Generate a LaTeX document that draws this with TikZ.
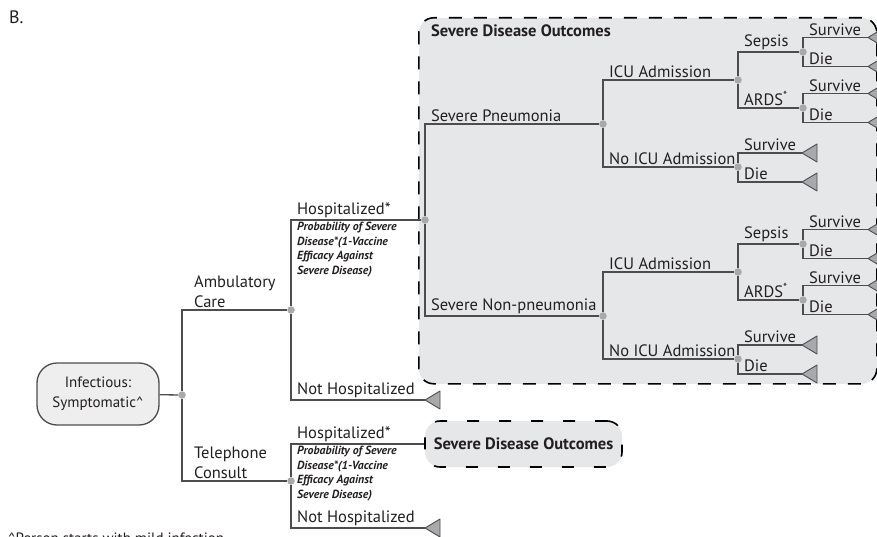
\documentclass[tikz,border=0pt]{standalone}
\usepackage{fontspec}
\setmainfont{PT Sans}
\usepackage{tikz}
\usetikzlibrary{positioning}
\definecolor{treeline}{HTML}{4D4D4F}
\definecolor{treetext}{HTML}{231F20}
\definecolor{treedot}{HTML}{A7A9AC}
\definecolor{treetri}{HTML}{A7A9AC}
\definecolor{outfill}{HTML}{E6E7E8}
\definecolor{rootfill}{HTML}{EEEEEE}

\begin{document}
\begin{tikzpicture}[x=1pt,y=-1pt,
  br/.style={draw=treeline,line width=1.3pt},
  dot/.style={circle,fill=treedot,inner sep=0pt,minimum size=7.5pt},
  lbl/.style={pos=0.5,anchor=south west,xshift=4pt,inner sep=1.5pt,text=treetext,font=\fontsize{16.5}{20}\selectfont},
  lbltwo/.style={lbl,align=left,xshift=6pt},
  note/.style={pos=0.5,anchor=north west,xshift=4pt,inner sep=1.5pt,align=left,text=treetext,font=\fontsize{11.8}{14.5}\selectfont\bfseries\itshape},
  term/.style={draw=treeline,fill=treetri,line width=0.9pt,line join=round},
  root/.style={draw=treeline,fill=rootfill,line width=1.3pt,rounded corners=20pt,minimum width=122pt,minimum height=62pt,align=center,text=treetext,font=\fontsize{15}{20}\selectfont},
  bigbox/.style={draw=black,fill=outfill,line width=1.6pt,dash pattern=on 13pt off 12pt,rounded corners=15pt,inner sep=0pt},
  smallbox/.style={draw=black,fill=outfill,line width=1.6pt,dash pattern=on 12pt off 20pt,rounded corners=15pt,minimum width=197pt,minimum height=46pt,text=treetext,font=\fontsize{16.5}{20}\selectfont\bfseries},
  boxtitle/.style={inner sep=0pt,text=treetext,font=\fontsize{16.5}{20}\selectfont\bfseries}
]
\useasboundingbox (0,0) rectangle (877,537);
\clip (0,0) rectangle (877,537);

% outcome panels
\node[bigbox,anchor=north west,minimum width=458pt,minimum height=366pt] (sdo) at (418,17) {};
\node[boxtitle,below right=8pt and 13pt of sdo.north west] (sdotitle) {Severe Disease Outcomes};
\node[smallbox] (sdotel) at (523.5,444) {Severe Disease Outcomes};

\node[anchor=west,inner sep=0pt,text=treetext,font=\fontsize{18}{20}\selectfont] (panel) at (9,17) {B.};
\node[root] (inf) at (98,394) {Infectious:\\Symptomatic\textasciicircum};

\node[dot] (start) at (182,395) {};
\node[dot] (amb) at (291,310) {};
\node[dot] (tel) at (291,481) {};
\node[dot] (hosp) at (425,220) {};
\node[dot] (pneu) at (603,124) {};
\node[dot] (nonpneu) at (603,316) {};
\coordinate (nhamb) at (425,400);
\coordinate (nhtel) at (425,528);

\draw[br] (inf) -- (start);
\draw[br] (start) |- node[lbltwo] (lamb) {Ambulatory\\Care} (amb);
\draw[br] (start) |- node[lbltwo] (ltel) {Telephone\\Consult} (tel);
\draw[br] (amb) |- node[lbl] (lhosp) {Hospitalized*}
  node[note] (nhosp) {Probability of Severe\\Disease*(1-Vaccine\\Efficacy Against\\Severe Disease)} (hosp);
\draw[br] (amb) |- node[lbl] (lnh) {Not Hospitalized} (nhamb);
\draw[br] (tel) |- node[lbl] (lhosptel) {Hospitalized*}
  node[note] (nhosptel) {Probability of Severe\\Disease*(1-Vaccine\\Efficacy Against\\Severe Disease)} (sdotel);
\draw[br] (tel) |- node[lbl] (lnhtel) {Not Hospitalized} (nhtel);
\draw[br] (hosp) |- node[lbl] (lpneu) {Severe Pneumonia} (pneu);
\draw[br] (hosp) |- node[lbl] (lnonpneu) {Severe Non-pneumonia} (nonpneu);

% the two severe branches share one layout
\foreach \s/\y in {pneu/124,nonpneu/316}{
  \node[dot] (icu\s) at (738,\y-44) {};
  \node[dot] (noicu\s) at (738,\y+43) {};
  \node[dot] (sep\s) at (803,\y-72) {};
  \node[dot] (ards\s) at (803,\y-16) {};
  \coordinate (sepsv\s) at (868,\y-86.5);
  \coordinate (sepdie\s) at (868,\y-57.5);
  \coordinate (ardssv\s) at (868,\y-30.5);
  \coordinate (ardsdie\s) at (868,\y-1.5);
  \coordinate (noicusv\s) at (802,\y+29);
  \coordinate (noicudie\s) at (802,\y+58);
  \draw[br] (\s) |- node[lbl] {ICU Admission} (icu\s);
  \draw[br] (\s) |- node[lbl] {No ICU Admission} (noicu\s);
  \draw[br] (icu\s) |- node[lbl] {Sepsis} (sep\s);
  \draw[br] (icu\s) |- node[lbl] {ARDS\textsuperscript{*}} (ards\s);
  \draw[br] (sep\s) |- node[lbl] {Survive} (sepsv\s);
  \draw[br] (sep\s) |- node[lbl] {Die} (sepdie\s);
  \draw[br] (ards\s) |- node[lbl] {Survive} (ardssv\s);
  \draw[br] (ards\s) |- node[lbl] {Die} (ardsdie\s);
  \draw[br] (noicu\s) |- node[lbl] {Survive} (noicusv\s);
  \draw[br] (noicu\s) |- node[lbl] {Die} (noicudie\s);
  \foreach \t in {sepsv,sepdie,ardssv,ardsdie,noicusv,noicudie}
    \draw[term] (\t\s) -- ++(15,-9) -- ++(0,18) -- cycle;
}
\foreach \t in {nhamb,nhtel}
  \draw[term] (\t) -- ++(15,-9) -- ++(0,18) -- cycle;

\node[anchor=north west,inner sep=0pt,text=treetext,font=\fontsize{15}{17}\selectfont] (foot) at (8,533) {\textasciicircum Person starts with mild infection};
\end{tikzpicture}
\end{document}
